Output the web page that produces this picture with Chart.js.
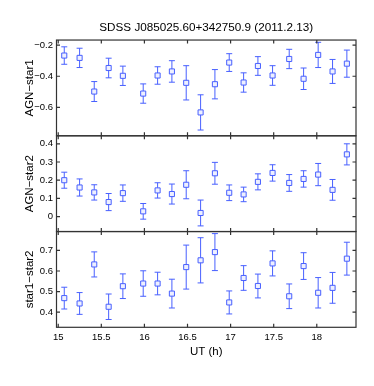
<!DOCTYPE html>
<html>
<head>
<meta charset="utf-8">
<script src="https://cdn.jsdelivr.net/npm/chart.js@4.4.0/dist/chart.umd.min.js"></script>
<style>
  body { margin: 0; background: #fff; }
  #wrap { width: 374px; height: 386px; }
</style>
</head>
<body>
<div id="wrap"><canvas id="lcChart" width="374" height="386"></canvas></div>
<script>
// UT of each frame (h)
const ut = [15.07, 15.248, 15.418, 15.585, 15.75, 15.986, 16.153, 16.319, 16.485, 16.652,
            16.818, 16.984, 17.151, 17.317, 17.487, 17.68, 17.847, 18.016, 18.183, 18.349];

// differential magnitudes and 1-sigma errors
const agnStar1 = [-0.267, -0.282, -0.498, -0.347, -0.397, -0.511, -0.395, -0.369, -0.442, -0.632,
                  -0.451, -0.312, -0.44, -0.334, -0.395, -0.289, -0.416, -0.263, -0.369, -0.319];
const agnStar1Err = [0.056, 0.062, 0.064, 0.063, 0.062, 0.062, 0.056, 0.069, 0.11, 0.113,
                     0.094, 0.057, 0.062, 0.06, 0.063, 0.062, 0.069, 0.081, 0.077, 0.087];

const agnStar2 = [0.2, 0.16, 0.133, 0.08, 0.129, 0.029, 0.144, 0.124, 0.175, 0.02,
                  0.238, 0.131, 0.122, 0.191, 0.24, 0.185, 0.207, 0.231, 0.147, 0.342];
const agnStar2Err = [0.044, 0.047, 0.042, 0.047, 0.045, 0.043, 0.042, 0.055, 0.077, 0.071,
                     0.06, 0.043, 0.04, 0.044, 0.045, 0.046, 0.045, 0.061, 0.057, 0.058];

const star1Star2 = [0.468, 0.442, 0.632, 0.426, 0.526, 0.539, 0.539, 0.49, 0.619, 0.652,
                    0.692, 0.447, 0.566, 0.527, 0.637, 0.477, 0.624, 0.494, 0.518, 0.66];
const star1Star2Err = [0.053, 0.053, 0.061, 0.062, 0.06, 0.062, 0.055, 0.07, 0.107, 0.11,
                       0.09, 0.056, 0.06, 0.058, 0.061, 0.06, 0.065, 0.074, 0.075, 0.08];

// tick labels
const xTicks = [15, 15.5, 16, 16.5, 17, 17.5, 18];
const y1Ticks = [-0.6, -0.4, -0.2];
const y2Ticks = [0, 0.1, 0.2, 0.3, 0.4];
const y3Ticks = [0.4, 0.5, 0.6, 0.7];

const blue = 'rgb(72, 96, 255)';
const axisColor = '#333';
const fontFamily = '"Liberation Sans", Arial, Helvetica, sans-serif';

function pts(ys) {
    return ut.map((t, i) => ({ x: t, y: ys[i] }));
}

function fixTicks(list) {
    return function(scale) {
        scale.ticks = list.map(v => ({ value: v }));
    };
}

function minusLabel(v) {
    return String(Math.round(v * 10) / 10).replace('-', '\u2212');
}

function yScale(min, max, ticks, title) {
    return {
        type: 'linear',
        position: 'left',
        stack: 'panels',
        stackWeight: 1,
        min: min,
        max: max,
        afterBuildTicks: fixTicks(ticks),
        afterFit: function(scale) { scale.width = 56.5; },
        grid: { display: false, drawTicks: false },
        border: { display: false },
        ticks: {
            color: '#000',
            padding: 3.5,
            font: { family: fontFamily, size: 9.5 },
            callback: minusLabel
        },
        title: {
            display: true,
            text: title,
            color: '#000',
            padding: { top: 23, bottom: 0 },
            font: { family: fontFamily, size: 11.5 }
        }
    };
}

function dataset(ys, errs, axis) {
    return {
        data: pts(ys),
        errors: errs,
        yAxisID: axis,
        pointStyle: 'rect',
        pointRadius: 3.6,
        pointHoverRadius: 3.6,
        borderWidth: 1,
        borderColor: blue,
        backgroundColor: '#eef0ff',
        showLine: false
    };
}

// vertical error bars with caps, drawn under the markers
const errorBars = {
    id: 'errorBars',
    beforeDatasetsDraw(chart) {
        const ctx = chart.ctx;
        ctx.save();
        ctx.strokeStyle = blue;
        ctx.lineWidth = 1;
        chart.data.datasets.forEach((ds, di) => {
            const meta = chart.getDatasetMeta(di);
            const ys = chart.scales[ds.yAxisID];
            meta.data.forEach((pt, i) => {
                const v = ds.data[i].y, e = ds.errors[i];
                const top = ys.getPixelForValue(v + e);
                const bot = ys.getPixelForValue(v - e);
                ctx.beginPath();
                ctx.moveTo(pt.x, top); ctx.lineTo(pt.x, bot);
                ctx.moveTo(pt.x - 3, top); ctx.lineTo(pt.x + 3, top);
                ctx.moveTo(pt.x - 3, bot); ctx.lineTo(pt.x + 3, bot);
                ctx.stroke();
            });
        });
        ctx.restore();
    }
};

// panel boxes with inward ticks on all sides
const panelFrames = {
    id: 'panelFrames',
    afterDraw(chart) {
        const ctx = chart.ctx;
        const area = chart.chartArea;
        const xs = chart.scales.x;
        const tl = 3.5;
        ctx.save();
        ctx.strokeStyle = axisColor;
        ctx.lineWidth = 1.2;
        [['y1', y1Ticks], ['y2', y2Ticks], ['y3', y3Ticks]].forEach(([id, ticks]) => {
            const s = chart.scales[id];
            ctx.strokeRect(area.left, s.top, area.right - area.left, s.bottom - s.top);
            ctx.beginPath();
            ticks.forEach(v => {
                const py = s.getPixelForValue(v);
                ctx.moveTo(area.left, py); ctx.lineTo(area.left + tl, py);
                ctx.moveTo(area.right, py); ctx.lineTo(area.right - tl, py);
            });
            xTicks.forEach(v => {
                const px = xs.getPixelForValue(v);
                ctx.moveTo(px, s.top); ctx.lineTo(px, s.top + tl);
                ctx.moveTo(px, s.bottom); ctx.lineTo(px, s.bottom - tl);
            });
            ctx.stroke();
        });
        ctx.restore();
    }
};

new Chart(document.getElementById('lcChart'), {
    type: 'scatter',
    data: {
        datasets: [
            dataset(agnStar1, agnStar1Err, 'y1'),
            dataset(agnStar2, agnStar2Err, 'y2'),
            dataset(star1Star2, star1Star2Err, 'y3')
        ]
    },
    options: {
        responsive: false,
        animation: false,
        layout: { padding: { left: 0, right: 18, top: 0, bottom: 0 } },
        plugins: {
            legend: { display: false },
            tooltip: { enabled: false },
            title: {
                display: true,
                fullSize: false,
                text: 'SDSS J085025.60+342750.9 (2011.2.13)',
                color: '#000',
                font: { family: fontFamily, size: 11.7, weight: 'normal' },
                padding: { top: 21, bottom: 5 }
            }
        },
        scales: {
            x: {
                type: 'linear',
                min: 14.98,
                max: 18.455,
                afterBuildTicks: fixTicks(xTicks),
                afterFit: function(scale) { scale.height = 58.7; },
                grid: { display: false, drawTicks: false },
                border: { display: false },
                ticks: {
                    color: '#000',
                    padding: 4,
                    maxRotation: 0,
                    font: { family: fontFamily, size: 9.5 },
                    callback: v => String(v)
                },
                title: {
                    display: true,
                    text: 'UT (h)',
                    color: '#000',
                    padding: { top: 0, bottom: 27.4 },
                    font: { family: fontFamily, size: 11.5 }
                }
            },
            // stacked panels: the last one listed is placed on top
            y3: yScale(0.326, 0.792, y3Ticks, 'star1\u2212star2'),
            y2: yScale(-0.082, 0.444, y2Ticks, 'AGN\u2212star2'),
            y1: yScale(-0.782, -0.1675, y1Ticks, 'AGN\u2212star1')
        }
    },
    plugins: [errorBars, panelFrames]
});
</script>
</body>
</html>
